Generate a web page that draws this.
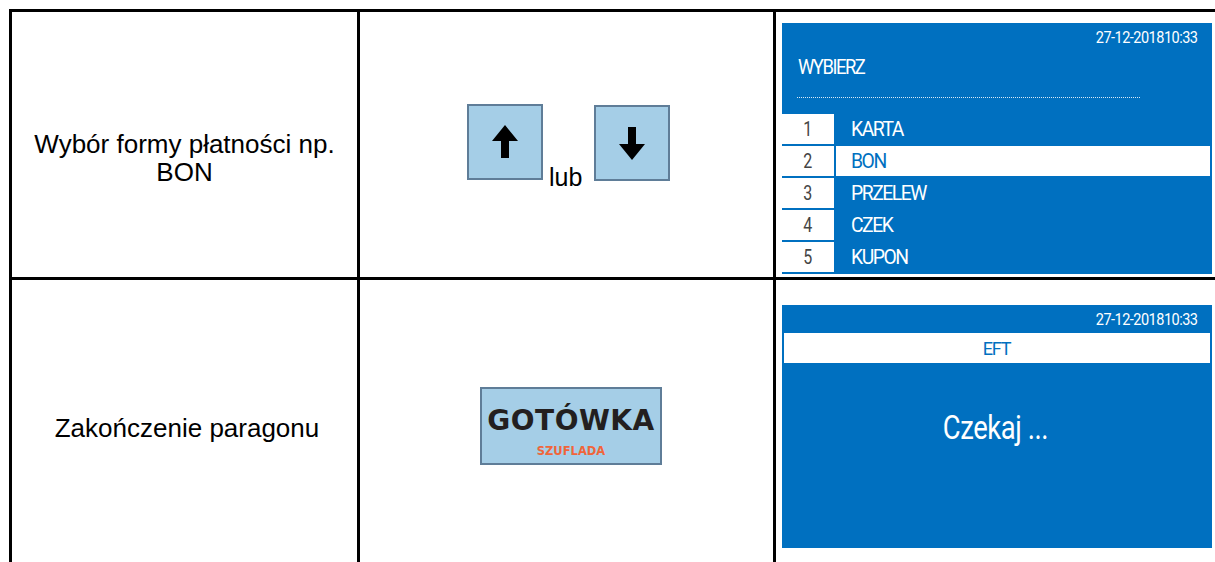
<!DOCTYPE html>
<html lang="pl">
<head>
<meta charset="utf-8">
<script src="https://cdn.jsdelivr.net/npm/chart.js@4.4.1/dist/chart.umd.min.js"></script>
<style>
  html, body { margin: 0; padding: 0; background: #fff; }
  body { width: 1215px; height: 562px; position: relative; overflow: hidden; font-family: "Liberation Sans", Arial, sans-serif; }
  .line { position: absolute; background: #000; }
  .abs { position: absolute; }
  .desc { position: absolute; text-align: center; font-size: 26px; line-height: 28px; color: #000; }
  .screen { position: absolute; background: #0070c0; }
  .lcd { font-family: Roboto, sans-serif; white-space: nowrap; display: inline-block; }
  .key { position: absolute; background: #a5cee7; border: 2px solid #5f7d98; box-sizing: border-box; }
</style>
</head>
<body>
<div id="page"></div>
<script>
// screen contents
const screenDate = '27-12-201810:33';
const menuTitle = 'WYBIERZ';
const menuNumbers = ['1', '2', '3', '4', '5'];
const menuItems = ['KARTA', 'BON', 'PRZELEW', 'CZEK', 'KUPON'];
const selectedItem = 1;
const stepTexts = [['Wybór formy płatności np.', 'BON'], ['Zakończenie paragonu']];
const keyLabels = ['GOTÓWKA', 'SZUFLADA'];
const orText = 'lub';
const eftTitle = 'EFT';
const waitText = 'Czekaj ...';

const page = document.getElementById('page');

function el(tag, cls, style, text) {
  const e = document.createElement(tag);
  if (cls) e.className = cls;
  if (style) e.style.cssText = style;
  if (text !== undefined) e.textContent = text;
  return e;
}

// lcd text, squeezed to look like the narrow terminal font
function lcd(parent, text, opts) {
  const box = el('div', 'abs', 'left:' + opts.x + 'px;top:' + opts.y + 'px;width:' + opts.w + 'px;height:' + opts.h + 'px;' +
    'display:flex;align-items:center;justify-content:' + (opts.align || 'flex-start') + ';');
  const s = el('span', 'lcd', 'font-size:' + opts.size + 'px;color:' + opts.color + ';transform:scaleX(' + opts.sx + ');' +
    'transform-origin:' + (opts.origin || 'left') + ' center;letter-spacing:' + (opts.ls || 0) + 'px;', text);
  box.appendChild(s);
  parent.appendChild(box);
}

// table grid
[
  [9, 9, 1206, 3], [9, 277, 1206, 3],
  [9, 9, 3, 553], [357, 9, 3, 553], [773, 9, 3, 553]
].forEach(([x, y, w, h]) => {
  page.appendChild(el('div', 'line', 'left:' + x + 'px;top:' + y + 'px;width:' + w + 'px;height:' + h + 'px;'));
});

// first column texts
const d1 = el('div', 'desc', 'left:12px;top:130px;width:345px;');
d1.innerHTML = stepTexts[0].join('<br>');
page.appendChild(d1);
page.appendChild(el('div', 'desc', 'left:12px;top:414px;width:350px;', stepTexts[1][0]));

// arrow keys
function arrowKey(x, y, up) {
  const k = el('div', 'key', 'left:' + x + 'px;top:' + y + 'px;width:76px;height:76px;');
  const path = up
    ? 'M38 21 L51 37 L42 37 L42 54 L34 54 L34 37 L25 37 Z'
    : 'M38 55 L51 39 L42 39 L42 22 L34 22 L34 39 L25 39 Z';
  k.innerHTML = '<svg width="72" height="72" viewBox="2 2 72 72" style="display:block"><path d="' + path + '" fill="#000"/></svg>';
  page.appendChild(k);
}
arrowKey(467, 104, true);
arrowKey(594, 105, false);
page.appendChild(el('div', 'abs', 'left:549px;top:163px;font-size:25px;line-height:28px;', orText));

// cash key
const cash = el('div', 'key', 'left:480px;top:387px;width:182px;height:78px;text-align:center;');
cash.appendChild(el('div', null, 'position:absolute;left:0;right:0;top:16px;font-family:"DejaVu Sans",sans-serif;font-weight:bold;font-size:28px;line-height:32px;color:#231f20;letter-spacing:0.5px;', keyLabels[0]));
cash.appendChild(el('div', null, 'position:absolute;left:0;right:0;top:55px;font-family:"DejaVu Sans",sans-serif;font-weight:bold;font-size:11.5px;line-height:14px;color:#f0653a;', keyLabels[1]));
page.appendChild(cash);

// screen 1: payment menu
const s1 = el('div', 'screen', 'left:782px;top:23px;width:430px;height:251px;');
page.appendChild(s1);
lcd(s1, screenDate, { x: 0, y: 4, w: 415, h: 20, size: 16.5, color: '#fff', sx: 0.88, align: 'flex-end', origin: 'right', ls: -0.6 });
lcd(s1, menuTitle, { x: 16, y: 33, w: 200, h: 22, size: 20, color: '#fff', sx: 0.92, ls: -1.6 });
s1.appendChild(el('div', 'abs', 'left:15px;top:74px;width:343px;height:0;border-top:1px dotted rgba(255,255,255,0.85);'));
menuItems.forEach((item, i) => {
  const top = 91 + i * 32;
  s1.appendChild(el('div', 'abs', 'left:0;top:' + top + 'px;width:52px;height:30px;background:#fff;'));
  lcd(s1, menuNumbers[i], { x: 0, y: top, w: 52, h: 30, size: 20, color: '#444', sx: 0.8, align: 'center', origin: 'center' });
  if (i === selectedItem) {
    s1.appendChild(el('div', 'abs', 'left:54px;top:' + top + 'px;width:374px;height:30px;background:#fff;'));
  }
  lcd(s1, item, { x: 69, y: top, w: 200, h: 30, size: 21, color: i === selectedItem ? '#0070c0' : '#fff', sx: 0.92, ls: -1.6 });
});

// screen 2: waiting for terminal
const s2 = el('div', 'screen', 'left:782px;top:305px;width:430px;height:243px;');
page.appendChild(s2);
lcd(s2, screenDate, { x: 0, y: 4, w: 415, h: 20, size: 16.5, color: '#fff', sx: 0.88, align: 'flex-end', origin: 'right', ls: -0.6 });
s2.appendChild(el('div', 'abs', 'left:2px;top:28px;width:426px;height:30px;background:#fff;'));
lcd(s2, eftTitle, { x: 2, y: 28, w: 426, h: 30, size: 19, color: '#0070c0', sx: 0.95, align: 'center', origin: 'center', ls: -1.2 });
lcd(s2, waitText, { x: 0, y: 100, w: 426, h: 44, size: 33, color: '#fff', sx: 0.83, align: 'center', origin: 'center', ls: -0.5 });
</script>
</body>
</html>
